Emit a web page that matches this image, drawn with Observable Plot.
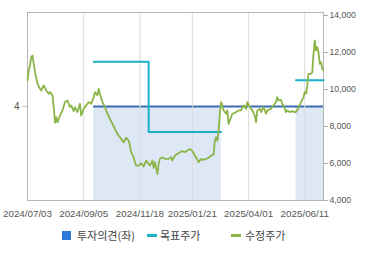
<!DOCTYPE html>
<html><head><meta charset="utf-8">
<script src="https://cdn.jsdelivr.net/npm/d3@7"></script>
<script src="https://cdn.jsdelivr.net/npm/@observablehq/plot@0.6"></script>
<style>
body{margin:0;background:#fff;font-family:"Liberation Sans",Arial,sans-serif;}
#wrap{position:relative;width:370px;height:222px;}
#wrap svg{position:absolute;left:0;top:0;}
#legend{position:relative;width:370px;height:33px;font-family:"Noto Sans CJK KR",sans-serif;font-size:11px;color:#444;}
#legend span{position:absolute;line-height:16px;top:5px;white-space:nowrap;}
#legend i{position:absolute;display:block;}
</style></head>
<body>
<div id="wrap"></div>
<div id="legend"></div>
<script>
// x positions are trading-day indices
const xTickIdx = [0, 45, 90, 132, 177, 222];
const xTickLabels = ["2024/07/03","2024/09/05","2024/11/18","2025/01/21","2025/04/01","2025/06/11"];
const yTicks = [4000, 6000, 8000, 10000, 12000, 14000];
const opinionTicks = [4];

// investment opinion (left axis)
const opinionStart = [53];
const opinionEnd = [237];
const opinionVal = [4];
// shaded coverage periods
const shadeStart = [53, 215];
const shadeEnd = [155, 237];
const shadeVal = [4, 4];

// target price
const targetIdx = [53, 97, 155, 215, 237];
const targetVal = [11500, 7700, 7700, 10500, 10500];
const targetSeg = [0, 0, 0, 1, 1];

// adjusted price
const priceIdx = [0,1,2,3,4,5,6,8,10,11,13,15,17,18,20,21,22,23,24,26,
  28,30,32,34,35,37,38,40,42,43,45,47,49,51,53,54,56,57,58,60,
  62,64,66,68,70,72,74,77,79,81,82,83,85,86,87,89,91,93,95,97,
  98,100,101,102,104,105,106,108,110,113,115,116,118,120,122,124,126,128,130,132,
  134,136,137,139,140,143,145,147,149,150,151,152,153,154,155,156,157,159,160,161,
  163,164,167,169,171,172,173,175,176,178,180,182,183,184,186,187,189,191,192,195,
  197,199,200,201,203,204,205,207,208,210,212,214,215,217,219,221,222,223,224,225,
  227,228,229,230,231,232,233,234,235,236,237];
const priceVal = [10490,11030,11300,11750,11840,11390,10940,10310,10040,9950,10220,9950,9770,9860,9680,9050,8200,8500,8230,8590,
  8870,9320,9410,9050,9140,8830,9050,8780,9230,8590,8960,9140,9320,9230,9590,9860,9680,10040,9770,9320,
  9050,8690,8410,8140,7870,7600,7420,7150,7390,7240,6970,6610,6340,6070,5890,5890,6020,5840,6160,5980,
  5890,6160,5770,6070,5440,5980,6250,6340,6250,6250,6340,6160,6430,6520,6610,6670,6610,6700,6790,6670,
  6430,6200,6070,6250,6200,6250,6310,6430,6490,7240,7420,7240,7780,8690,9320,9140,8870,8690,8870,8140,
  8500,8690,8780,8870,8870,9050,9140,8960,9320,9050,8870,8590,8230,8870,8960,8780,9050,8690,8870,8960,
  9140,9320,9590,9410,9440,9230,9140,8780,8870,8780,8830,8780,8780,9010,9320,9590,9860,9770,10220,10850,
  10850,10940,11930,12650,12110,12290,12020,11390,11480,11120,11030];

const priceRows = priceIdx.map((d,i)=>({x:d, y:priceVal[i]}));
const targetRows = targetIdx.map((d,i)=>({x:d, y:targetVal[i], z:targetSeg[i]}));
const opinionRows = opinionStart.map((d,i)=>({x1:d, x2:opinionEnd[i], y:opinionVal[i]}));
const shadeRows = shadeStart.map((d,i)=>({x1:d, x2:shadeEnd[i], y1:0, y2:shadeVal[i]}));

const W = 370, H = 222;
const common = {width:W, height:H, marginLeft:27, marginRight:47, marginTop:12, marginBottom:22};
const axisFont = "Liberation Sans, Arial, sans-serif";

const opPlot = Plot.plot({
  ...common,
  style:{background:"transparent", overflow:"visible"},
  x:{domain:[0,237], axis:null},
  y:{domain:[0,8], axis:null},
  marks:[
    Plot.rect(shadeRows, {x1:"x1", x2:"x2", y1:"y1", y2:"y2", fill:"#dde7f6"}),
    Plot.ruleY(opinionRows, {y:"y", x1:"x1", x2:"x2", stroke:"#3a6cb4", strokeWidth:2}),
    Plot.axisY(opinionTicks, {anchor:"left", label:null, tickSize:5, tickPadding:3, fontSize:10, stroke:"#c8c8c8", fill:"#555", fontFamily:axisFont})
  ]
});

const pricePlot = Plot.plot({
  ...common,
  style:{background:"transparent", overflow:"visible"},
  x:{domain:[0,237]},
  y:{domain:[4000,14000], insetTop:3},
  marks:[
    Plot.gridX(xTickIdx, {stroke:"#dcdcdc", strokeOpacity:1}),
    Plot.frame({stroke:"#b5b5b5"}),
    Plot.axisX(xTickIdx, {label:null, tickSize:0, tickPadding:10, fontSize:9.8, fill:"#555", fontFamily:axisFont,
      tickFormat: d => xTickLabels[xTickIdx.indexOf(d)]}),
    Plot.axisY(yTicks, {anchor:"right", label:null, tickSize:4, tickPadding:2, fontSize:8.6, stroke:"#aaa", fill:"#555", fontFamily:axisFont,
      tickFormat: d3.format(",")}),
    Plot.line(targetRows, {x:"x", y:"y", z:"z", curve:"step-after", stroke:"#1ab2c8", strokeWidth:2}),
    Plot.line(priceRows, {x:"x", y:"y", stroke:"#8bb548", strokeWidth:1.8, strokeLinejoin:"round"})
  ]
});

const wrap = document.getElementById("wrap");
wrap.appendChild(opPlot);
wrap.appendChild(pricePlot);

const lg = document.getElementById("legend");
lg.innerHTML =
  '<i style="left:62px;top:9px;width:9px;height:9px;background:#2f78d8"></i>' +
  '<span style="left:77px">투자의견(좌)</span>' +
  '<i style="left:147px;top:12px;width:10px;height:3px;background:#1ab2c8"></i>' +
  '<span style="left:160px">목표주가</span>' +
  '<i style="left:231px;top:12px;width:10px;height:3px;background:#8bb548"></i>' +
  '<span style="left:245px">수정주가</span>';
</script>
</body></html>
